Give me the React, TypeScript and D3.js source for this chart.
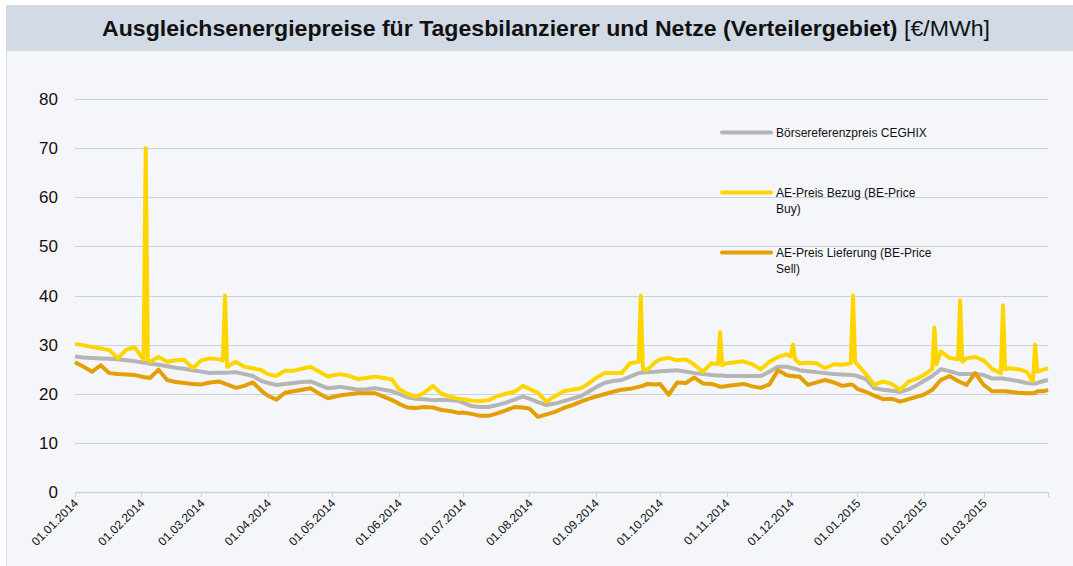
import React, { useRef, useEffect } from "react";
import * as d3 from "d3";

// daily prices in €/MWh (approx. every 4 days plus spike days)
const dates = [
  "2014-01-01", "2014-01-05", "2014-01-09", "2014-01-13", "2014-01-17", "2014-01-21", "2014-01-25", "2014-01-29",
  "2014-02-01", "2014-02-02", "2014-02-03", "2014-02-04", "2014-02-05", "2014-02-09", "2014-02-13", "2014-02-17", "2014-02-21", "2014-02-25",
  "2014-03-01", "2014-03-05", "2014-03-09", "2014-03-11", "2014-03-12", "2014-03-13", "2014-03-17", "2014-03-21", "2014-03-25", "2014-03-29",
  "2014-04-01", "2014-04-05", "2014-04-09", "2014-04-13", "2014-04-17", "2014-04-21", "2014-04-25", "2014-04-29",
  "2014-05-01", "2014-05-05", "2014-05-09", "2014-05-13", "2014-05-17", "2014-05-21", "2014-05-25", "2014-05-29",
  "2014-06-01", "2014-06-05", "2014-06-09", "2014-06-13", "2014-06-17", "2014-06-21", "2014-06-25", "2014-06-29",
  "2014-07-01", "2014-07-05", "2014-07-09", "2014-07-13", "2014-07-17", "2014-07-21", "2014-07-25", "2014-07-29",
  "2014-08-01", "2014-08-05", "2014-08-09", "2014-08-13", "2014-08-17", "2014-08-21", "2014-08-25", "2014-08-29",
  "2014-09-01", "2014-09-05", "2014-09-09", "2014-09-13", "2014-09-17", "2014-09-21", "2014-09-22", "2014-09-23", "2014-09-25", "2014-09-29",
  "2014-10-01", "2014-10-05", "2014-10-09", "2014-10-13", "2014-10-17", "2014-10-21", "2014-10-25", "2014-10-28", "2014-10-29", "2014-10-30",
  "2014-11-01", "2014-11-05", "2014-11-09", "2014-11-13", "2014-11-17", "2014-11-21", "2014-11-25", "2014-11-29",
  "2014-12-01", "2014-12-02", "2014-12-03", "2014-12-05", "2014-12-09", "2014-12-13", "2014-12-17", "2014-12-21", "2014-12-25", "2014-12-29", "2014-12-30", "2014-12-31",
  "2015-01-01", "2015-01-05", "2015-01-09", "2015-01-13", "2015-01-17", "2015-01-21", "2015-01-25", "2015-01-29",
  "2015-02-01", "2015-02-05", "2015-02-06", "2015-02-07", "2015-02-09", "2015-02-13", "2015-02-17", "2015-02-18", "2015-02-19", "2015-02-21", "2015-02-25",
  "2015-03-01", "2015-03-05", "2015-03-09", "2015-03-10", "2015-03-11", "2015-03-13", "2015-03-17", "2015-03-21", "2015-03-24", "2015-03-25", "2015-03-26", "2015-03-29", "2015-03-31",
];

const ceghix = [
  27.6, 27.4, 27.3, 27.2, 27.1, 27.0, 26.8, 26.6,
  26.4, 26.3, 26.3, 26.2, 26.1, 25.9, 25.6, 25.3, 25.1, 24.8,
  24.5, 24.2, 24.3, 24.3, 24.3, 24.3, 24.4, 24.0, 23.6, 22.6,
  22.2, 21.8, 22.0, 22.2, 22.4, 22.5, 21.8, 21.1,
  21.2, 21.4, 21.1, 20.8, 20.9, 21.1, 20.8, 20.5,
  20.0, 19.3, 19.0, 18.9, 18.7, 18.8, 18.7, 18.5,
  18.2, 17.5, 17.3, 17.3, 17.7, 18.2, 18.8, 19.4,
  19.0, 18.3, 17.7, 18.0, 18.5, 19.0, 19.5, 20.5,
  21.3, 22.2, 22.6, 22.8, 23.5, 24.2, 24.3, 24.3, 24.4, 24.5,
  24.6, 24.7, 24.8, 24.5, 24.2, 24.0, 23.8, 23.7, 23.7, 23.7,
  23.6, 23.6, 23.6, 23.6, 23.6, 24.5, 25.5, 25.5,
  25.3, 25.2, 25.1, 24.8, 24.6, 24.4, 24.2, 24.0, 23.9, 23.8, 23.8, 23.7,
  23.6, 23.0, 21.1, 20.8, 20.6, 20.4, 20.9, 21.8,
  22.6, 23.6, 24.0, 24.3, 25.0, 24.6, 24.1, 24.0, 24.0, 24.0, 24.0,
  23.8, 23.1, 23.1, 23.1, 23.0, 22.9, 22.6, 22.2, 22.1, 22.1, 22.2, 22.6, 22.8,
];

const bezug = [
  30.1, 29.9, 29.5, 29.2, 28.9, 27.2, 29.0, 29.4,
  27.5, 27.0, 70.0, 27.0, 26.5, 27.5, 26.5, 26.8, 26.9, 25.2,
  26.8, 27.2, 27.0, 26.8, 40.0, 25.5, 26.5, 25.5, 25.2, 24.8,
  24.0, 23.6, 24.7, 24.7, 25.1, 25.5, 24.5, 23.5,
  23.7, 24.0, 23.6, 23.0, 23.2, 23.5, 23.2, 22.9,
  21.0, 20.0, 19.4, 20.2, 21.6, 20.0, 19.4, 19.0,
  18.9, 18.6, 18.5, 18.7, 19.5, 20.0, 20.4, 21.6,
  21.0, 20.2, 18.4, 19.5, 20.5, 20.8, 21.1, 22.2,
  23.2, 24.2, 24.2, 24.2, 26.2, 26.5, 40.0, 25.0, 24.9, 26.5,
  27.0, 27.3, 26.8, 27.0, 25.9, 24.5, 26.2, 26.0, 32.5, 25.8,
  26.2, 26.4, 26.6, 26.0, 25.0, 26.5, 27.5, 28.0,
  27.6, 30.0, 27.0, 26.2, 26.3, 26.2, 25.2, 26.0, 25.9, 26.2, 40.0, 26.5,
  26.0, 24.0, 21.8, 22.5, 22.0, 20.8, 22.5, 23.1,
  23.8, 25.0, 33.5, 26.0, 28.6, 27.3, 27.0, 39.0, 26.5, 27.2, 27.5,
  26.8, 25.0, 24.2, 38.0, 25.0, 25.2, 25.0, 24.5, 22.5, 30.0, 24.5, 24.9, 25.2,
];

const lieferung = [
  26.4, 25.5, 24.5, 25.8, 24.2, 24.0, 23.9, 23.8,
  23.5, 23.4, 23.3, 23.3, 23.2, 24.9, 22.8, 22.4, 22.2, 22.0,
  21.9, 22.3, 22.5, 22.2, 22.0, 21.9, 21.2, 21.6, 22.3, 20.6,
  19.6, 18.8, 20.2, 20.5, 20.8, 21.1, 20.0, 19.1,
  19.3, 19.7, 19.9, 20.1, 20.1, 20.1, 19.4, 18.7,
  18.0, 17.2, 17.1, 17.3, 17.2, 16.7, 16.5, 16.1,
  16.2, 15.9, 15.5, 15.5, 16.0, 16.6, 17.3, 17.2,
  17.0, 15.3, 15.8, 16.3, 17.1, 17.7, 18.4, 19.0,
  19.4, 19.9, 20.4, 20.8, 21.0, 21.4, 21.5, 21.6, 22.0, 21.9,
  22.0, 19.8, 22.3, 22.2, 23.3, 22.1, 22.0, 21.6, 21.4, 21.4,
  21.6, 21.8, 22.0, 21.5, 21.2, 21.9, 24.8, 23.8,
  23.6, 23.6, 23.5, 23.5, 21.8, 22.3, 22.8, 22.3, 21.6, 21.9, 21.8, 21.4,
  21.0, 20.4, 19.6, 18.9, 19.0, 18.4, 18.9, 19.4,
  19.8, 20.8, 21.3, 21.8, 22.8, 23.6, 22.6, 22.4, 22.2, 21.8, 24.2,
  21.8, 20.5, 20.5, 20.5, 20.5, 20.4, 20.2, 20.1, 20.1, 20.2, 20.5, 20.5, 20.8,
];

const yTicks = [0, 10, 20, 30, 40, 50, 60, 70, 80];

const seriesNames = [
  "Börsereferenzpreis CEGHIX",
  "AE-Preis Bezug (BE-Price Buy)",
  "AE-Preis Lieferung (BE-Price Sell)",
];
const legendLines = [
  ["Börsereferenzpreis CEGHIX"],
  ["AE-Preis Bezug (BE-Price", "Buy)"],
  ["AE-Preis Lieferung (BE-Price", "Sell)"],
];
const seriesColors = ["#b5b5b5", "#ffd500", "#e49f05"];

const W = 1073;
const H = 566;

const App: React.FC = () => {
  const svgRef = useRef<SVGSVGElement | null>(null);

  useEffect(() => {
    document.body.style.margin = "0";
    if (!svgRef.current) return;
    const svg = d3.select(svgRef.current);
    svg.selectAll("*").remove();

    const font = "Liberation Sans, Arial, sans-serif";
    const parse = d3.utcParse("%Y-%m-%d");
    const days = dates.map((d) => parse(d) as Date);

    const x = d3
      .scaleUtc()
      .domain([days[0], days[days.length - 1]])
      .range([75, 1048]);
    const y = d3.scaleLinear().domain([0, 80]).range([492, 99]);

    // background + frame
    svg.append("rect").attr("x", 0).attr("y", 0).attr("width", W).attr("height", H).attr("fill", "#ffffff");
    svg
      .append("rect")
      .attr("x", 6.5)
      .attr("y", 5.5)
      .attr("width", W)
      .attr("height", H)
      .attr("fill", "#f5f6fa")
      .attr("stroke", "#d6dbe3");
    svg.append("rect").attr("x", 7).attr("y", 6).attr("width", W).attr("height", 45).attr("fill", "#d1dae5");

    const title = svg
      .append("text")
      .attr("x", 546)
      .attr("y", 36)
      .attr("text-anchor", "middle")
      .attr("font-family", font)
      .attr("font-size", 22)
      .attr("textLength", 888)
      .attr("lengthAdjust", "spacingAndGlyphs")
      .attr("fill", "#111");
    title.append("tspan").attr("font-weight", "bold").text("Ausgleichsenergiepreise für Tagesbilanzierer und Netze (Verteilergebiet)");
    title.append("tspan").text(" [€/MWh]");

    // grid
    const g = svg.append("g");
    g.selectAll("line.grid")
      .data(yTicks.filter((t) => t > 0))
      .join("line")
      .attr("x1", 75)
      .attr("x2", 1048)
      .attr("y1", (d) => Math.round(y(d)) + 0.5)
      .attr("y2", (d) => Math.round(y(d)) + 0.5)
      .attr("stroke", "#c9d1de")
      .attr("stroke-width", 1);

    g.selectAll("text.ylab")
      .data(yTicks)
      .join("text")
      .attr("x", 58)
      .attr("y", (d) => y(d) + 6)
      .attr("text-anchor", "end")
      .attr("font-family", font)
      .attr("font-size", 17)
      .attr("fill", "#111")
      .text((d) => d);

    // x axis
    const monthTicks = d3.utcMonth.range(days[0], d3.utcDay.offset(days[days.length - 1], 1));
    const xAxis = svg.append("g").attr("transform", "translate(0,492)");
    xAxis
      .append("line")
      .attr("x1", 75)
      .attr("x2", 1048)
      .attr("y1", 0.5)
      .attr("y2", 0.5)
      .attr("stroke", "#c9d1de")
      .attr("stroke-width", 1.5);
    xAxis
      .selectAll("line.tick")
      .data([...monthTicks, days[days.length - 1]])
      .join("line")
      .attr("x1", (d) => Math.round(x(d)) + 0.5)
      .attr("x2", (d) => Math.round(x(d)) + 0.5)
      .attr("y1", 0)
      .attr("y2", 5)
      .attr("stroke", "#c9d1de");
    const fmt = d3.utcFormat("%d.%m.%Y");
    xAxis
      .selectAll("text.xlab")
      .data(monthTicks)
      .join("text")
      .attr("transform", (d) => `translate(${x(d) + 4},${12}) rotate(-45)`)
      .attr("text-anchor", "end")
      .attr("font-family", font)
      .attr("font-size", 12)
      .attr("fill", "#111")
      .text((d) => fmt(d));

    // lines
    const seriesValues = [ceghix, bezug, lieferung];
    const line = d3
      .line<number>()
      .x((_, i) => x(days[i]))
      .y((v) => y(v));
    svg
      .append("g")
      .selectAll("path")
      .data(seriesValues)
      .join("path")
      .attr("d", (d) => line(d))
      .attr("fill", "none")
      .attr("stroke", (_, i) => seriesColors[i])
      .attr("stroke-width", 4)
      .attr("stroke-linejoin", "round")
      .attr("aria-label", (_, i) => seriesNames[i]);

    // legend
    const legendY = [132.5, 192.5, 252.5];
    const lg = svg.append("g");
    legendLines.forEach((lines, i) => {
      lg.append("line")
        .attr("x1", 722)
        .attr("x2", 771)
        .attr("y1", legendY[i])
        .attr("y2", legendY[i])
        .attr("stroke", seriesColors[i])
        .attr("stroke-width", 4)
        .attr("stroke-linecap", "round");
      lines.forEach((t, j) => {
        lg.append("text")
          .attr("x", 776)
          .attr("y", legendY[i] + 4 + j * 16)
          .attr("font-family", font)
          .attr("font-size", 12)
          .attr("fill", "#111")
          .text(t);
      });
    });
  }, []);

  return <svg ref={svgRef} width={W} height={H} style={{ display: "block" }} />;
};

export default App;
